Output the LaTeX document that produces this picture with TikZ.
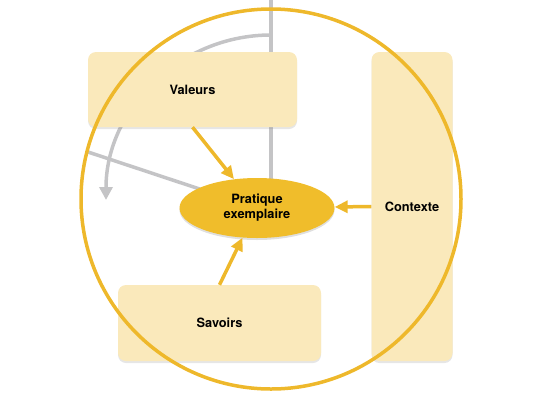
\documentclass[tikz,border=0pt]{standalone}
\usepackage{fontspec}
\setmainfont{TeX Gyre Heros}
\usepackage{xcolor}
\usepackage{tikz}
\usetikzlibrary{arrows.meta, shadows, backgrounds, shapes.geometric}
\definecolor{boxGelb}{HTML}{FAE9BB}
\definecolor{ovalGelb}{HTML}{F0BD2B}
\definecolor{linieGelb}{HTML}{EEB82B}
\definecolor{linieGrau}{HTML}{C4C4C6}
\newcommand{\schrift}{\bfseries\fontsize{12.8}{15}\selectfont}
\tikzstyle{feld} = [rectangle, rounded corners=8pt, fill=boxGelb, inner sep=0pt,
	font=\schrift, drop shadow={opacity=0.2, shadow xshift=0pt, shadow yshift=-2pt}]
\tikzstyle{praxis} = [ellipse, fill=ovalGelb, inner sep=0pt, align=center,
	minimum width=155pt, minimum height=60pt, font=\schrift,
	drop shadow={opacity=0.25, shadow xshift=0pt, shadow yshift=-2pt}]
\tikzstyle{gelbArrow} = [linieGelb, line width=3.5pt, -{Triangle[length=13pt,width=12pt]}]
\tikzstyle{grauLinie} = [linieGrau, line width=3.5pt]
\begin{document}
\begin{tikzpicture}[x=1pt, y=-1pt]
		\useasboundingbox (0,0) rectangle (540,405);
		% nodes
		\node[feld, minimum width=209pt, minimum height=75pt] (val) at (192.5,89.5) {Valeurs};		% oben links
		\node[feld, minimum width=203pt, minimum height=76pt] (sav) at (219.5,323) {Savoirs};		% unten links
		\node[feld, minimum width=81pt, minimum height=309pt] (ctx) at (412,206.5) {Contexte};		% rechts, hoch
		\draw[linieGelb, line width=3.5pt] (271,199) circle (190);						% grosser Kreis
		\node[praxis] (prax) at (257,208) {Pratique\\exemplaire};					% Mitte
		\coordinate (gTop) at (271,0);			% graue Linie oben
		\coordinate (gBogen) at (271,35);		% Anfang Bogen
		\coordinate (gLinks) at (88,152);		% graue Linie links
		
		% graue Linien hinter allem
		\begin{scope}[on background layer]
			\draw[grauLinie] (gTop) -- (gTop |- prax.center);
			\draw[grauLinie] (gLinks) -- (prax.center);
			\draw[grauLinie, -{Triangle[length=13pt,width=13pt]}] (gBogen) arc[start angle=-90, end angle=-180, radius=165];
		\end{scope}
		
		% arrows
		\draw[gelbArrow] (val.south) -- (prax);
		\draw[gelbArrow] (sav.north) -- (prax);
		\draw[gelbArrow] (ctx.west) -- (prax);
		\end{tikzpicture}
\end{document}
